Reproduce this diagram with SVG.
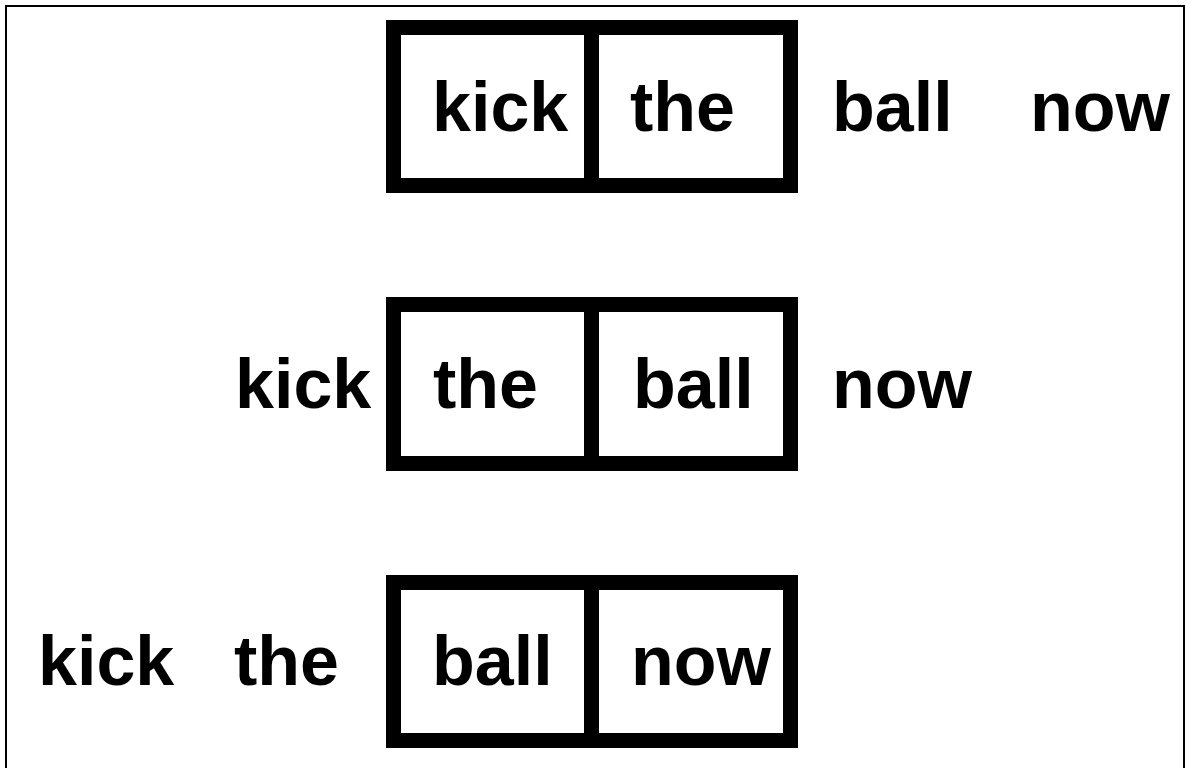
<svg xmlns="http://www.w3.org/2000/svg" width="1186" height="768" viewBox="0 0 1186 768">
<style>
.frame{fill:none;stroke:#000;stroke-width:2}
.box{fill:#fff;stroke:#000;stroke-width:15}
.w{font-family:"Liberation Sans",Arial,sans-serif;font-weight:bold;font-size:70px;fill:#000}
</style>
<rect x="0" y="0" width="1186" height="768" fill="#fff"/>
<rect class="frame" x="6" y="6" width="1178" height="780"/>
<g id="window1">
<rect class="box" x="393.5" y="27.5" width="198" height="158"/>
<rect class="box" x="591.5" y="27.5" width="199" height="158"/>
</g>
<g id="window2">
<rect class="box" x="393.5" y="304.5" width="198" height="159"/>
<rect class="box" x="591.5" y="304.5" width="199" height="159"/>
</g>
<g id="window3">
<rect class="box" x="393.5" y="582.5" width="198" height="158"/>
<rect class="box" x="591.5" y="582.5" width="199" height="158"/>
</g>
<g id="row1">
<text class="w" x="432" y="131">kick</text>
<text class="w" x="630" y="131">the</text>
<text class="w" x="832" y="131">ball</text>
<text class="w" x="1030" y="131">now</text>
</g>
<g id="row2">
<text class="w" x="235" y="408">kick</text>
<text class="w" x="433" y="408">the</text>
<text class="w" x="633" y="408">ball</text>
<text class="w" x="832" y="408">now</text>
</g>
<g id="row3">
<text class="w" x="38" y="685">kick</text>
<text class="w" x="234" y="685">the</text>
<text class="w" x="432" y="685">ball</text>
<text class="w" x="631" y="685">now</text>
</g>
<g id="connectors"></g>
</svg>
